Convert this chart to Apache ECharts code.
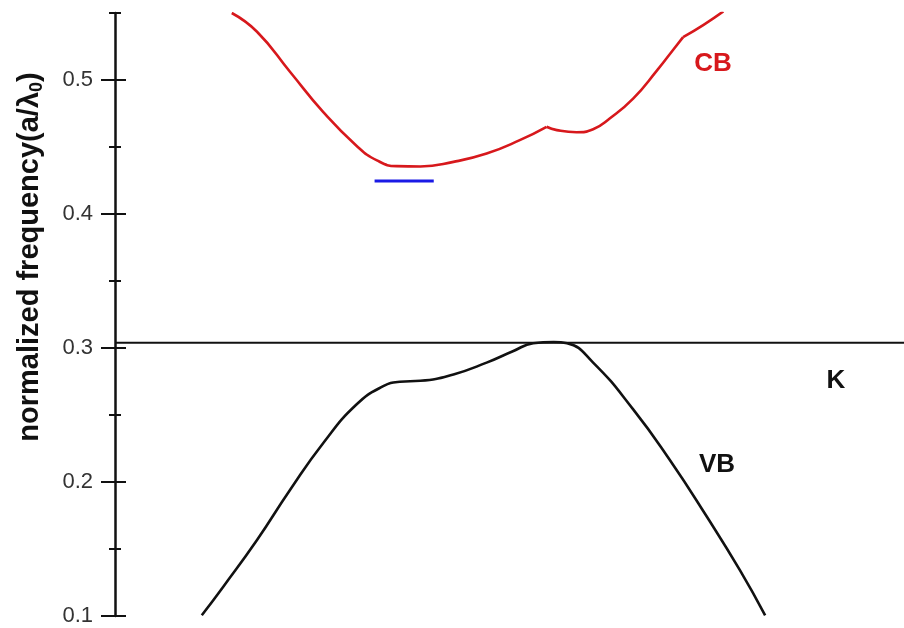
<!DOCTYPE html>
<html>
<head>
<meta charset="utf-8">
<script src="https://cdn.jsdelivr.net/npm/echarts@6/dist/echarts.min.js"></script>
<style>
  html, body { margin: 0; padding: 0; background: #fff; }
  #chart { width: 904px; height: 628px; }
</style>
</head>
<body>
<div id="chart"></div>
<script>
// Conduction band, split at its two cusps (x: position along the k-path, y: a/λ0)
const cbX1 = [14.8, 18.0, 22.2, 26.4, 30.6, 33.2, 35.7, 38.7, 42.9, 47.1, 51.3, 54.7];
const cbY1 = [0.550, 0.536, 0.506, 0.476, 0.451, 0.440, 0.4357, 0.4355, 0.4389, 0.4451, 0.4551, 0.4651];
const cbX2 = [54.7, 56.0, 58.5, 60.6, 62.7, 65.7, 68.7, 70.8, 72.0];
const cbY2 = [0.4651, 0.4626, 0.4610, 0.4633, 0.4713, 0.4863, 0.5072, 0.5230, 0.5320];
const cbX3 = [72.0, 74.6, 77.1];
const cbY3 = [0.5320, 0.5412, 0.5512];

// Valence band
const vbX = [11.0, 13.7, 18.0, 22.2, 26.4, 30.6, 34.0, 36.1, 38.7, 42.9, 47.1, 50.5, 53.0, 55.6, 57.3, 60.6, 65.7, 70.3, 75.0, 79.2, 82.4];
const vbY = [0.1005, 0.1217, 0.1567, 0.1942, 0.2291, 0.2578, 0.2715, 0.2748, 0.2755, 0.2803, 0.2891, 0.2978, 0.3035, 0.3045, 0.3035, 0.2891, 0.2540, 0.2166, 0.1742, 0.1342, 0.1005];

// Horizontal reference level (top of valence band) and the blue gap marker
const levelX = [0, 100];
const levelY = [0.304, 0.304];
const markX = [32.9, 40.4];
const markY = [0.4247, 0.4247];

const majorTicks = [0.1, 0.2, 0.3, 0.4, 0.5];
const minorTicks = [0.15, 0.25, 0.35, 0.45, 0.55];

const FONT = '"Liberation Sans", Arial, Helvetica, sans-serif';
const RED = '#d7181c';
const pairs = (xs, ys) => xs.map((x, i) => [x, ys[i]]);

function yAx(opts) {
  return Object.assign({
    type: 'value', min: 0.1, max: 0.55, interval: 0.05, position: 'left',
    splitLine: { show: false },
    axisLine: { show: false },
    axisLabel: { show: false },
    axisTick: { show: false }
  }, opts);
}

function curve(name, xs, ys, color) {
  return {
    name: name, type: 'line', data: pairs(xs, ys), smooth: 0.5,
    symbol: 'none', lineStyle: { color: color, width: 2.6 }, z: 3
  };
}

const chart = echarts.init(document.getElementById('chart'), null, { renderer: 'canvas' });
chart.setOption({
  backgroundColor: '#ffffff',
  animation: false,
  grid: { left: 115, right: 0, top: 13, bottom: 12, containLabel: false, outerBoundsMode: 'none' },
  xAxis: { type: 'value', min: 0, max: 100, show: false },
  yAxis: [
    yAx({
      axisLine: { show: true, lineStyle: { color: '#111', width: 2.5 } },
      axisTick: { show: true, inside: false, length: 14, customValues: majorTicks, lineStyle: { color: '#111', width: 2 } },
      axisLabel: {
        show: true, margin: 22, customValues: majorTicks,
        color: '#333', fontSize: 22, fontFamily: FONT,
        formatter: v => v.toFixed(1)
      }
    }),
    yAx({ axisTick: { show: true, inside: true, length: 11, customValues: majorTicks, lineStyle: { color: '#111', width: 2 } } }),
    yAx({ axisTick: { show: true, inside: false, length: 6, customValues: minorTicks, lineStyle: { color: '#111', width: 2 } } }),
    yAx({ axisTick: { show: true, inside: true, length: 6, customValues: minorTicks, lineStyle: { color: '#111', width: 2 } } })
  ],
  series: [
    {
      name: 'level', type: 'line', data: pairs(levelX, levelY),
      symbol: 'none', lineStyle: { color: '#111', width: 2 }, z: 2
    },
    curve('CB', cbX1, cbY1, RED),
    curve('CB', cbX2, cbY2, RED),
    curve('CB', cbX3, cbY3, RED),
    curve('VB', vbX, vbY, '#111'),
    {
      name: 'gap', type: 'line', data: pairs(markX, markY),
      symbol: 'none', lineStyle: { color: '#1a1ae6', width: 3 }, z: 3
    }
  ],
  graphic: [
    {
      type: 'text', x: 30, y: 257, rotation: Math.PI / 2,
      style: {
        text: '{a|normalized frequency(a/λ}{s|0}{a|)}',
        align: 'center', verticalAlign: 'middle',
        rich: {
          a: { fontSize: 29, fontWeight: 'bold', fontFamily: FONT, fill: '#111' },
          s: { fontSize: 18, fontWeight: 'bold', fontFamily: FONT, fill: '#111', padding: [15, 0, 0, 0] }
        }
      }
    },
    { type: 'text', x: 713, y: 64, style: { text: 'CB', fontSize: 26, fontWeight: 'bold', fontFamily: FONT, fill: RED, align: 'center', verticalAlign: 'middle' } },
    { type: 'text', x: 836, y: 381, style: { text: 'K', fontSize: 26, fontWeight: 'bold', fontFamily: FONT, fill: '#111', align: 'center', verticalAlign: 'middle' } },
    { type: 'text', x: 717, y: 465, style: { text: 'VB', fontSize: 26, fontWeight: 'bold', fontFamily: FONT, fill: '#111', align: 'center', verticalAlign: 'middle' } }
  ]
});
</script>
</body>
</html>
